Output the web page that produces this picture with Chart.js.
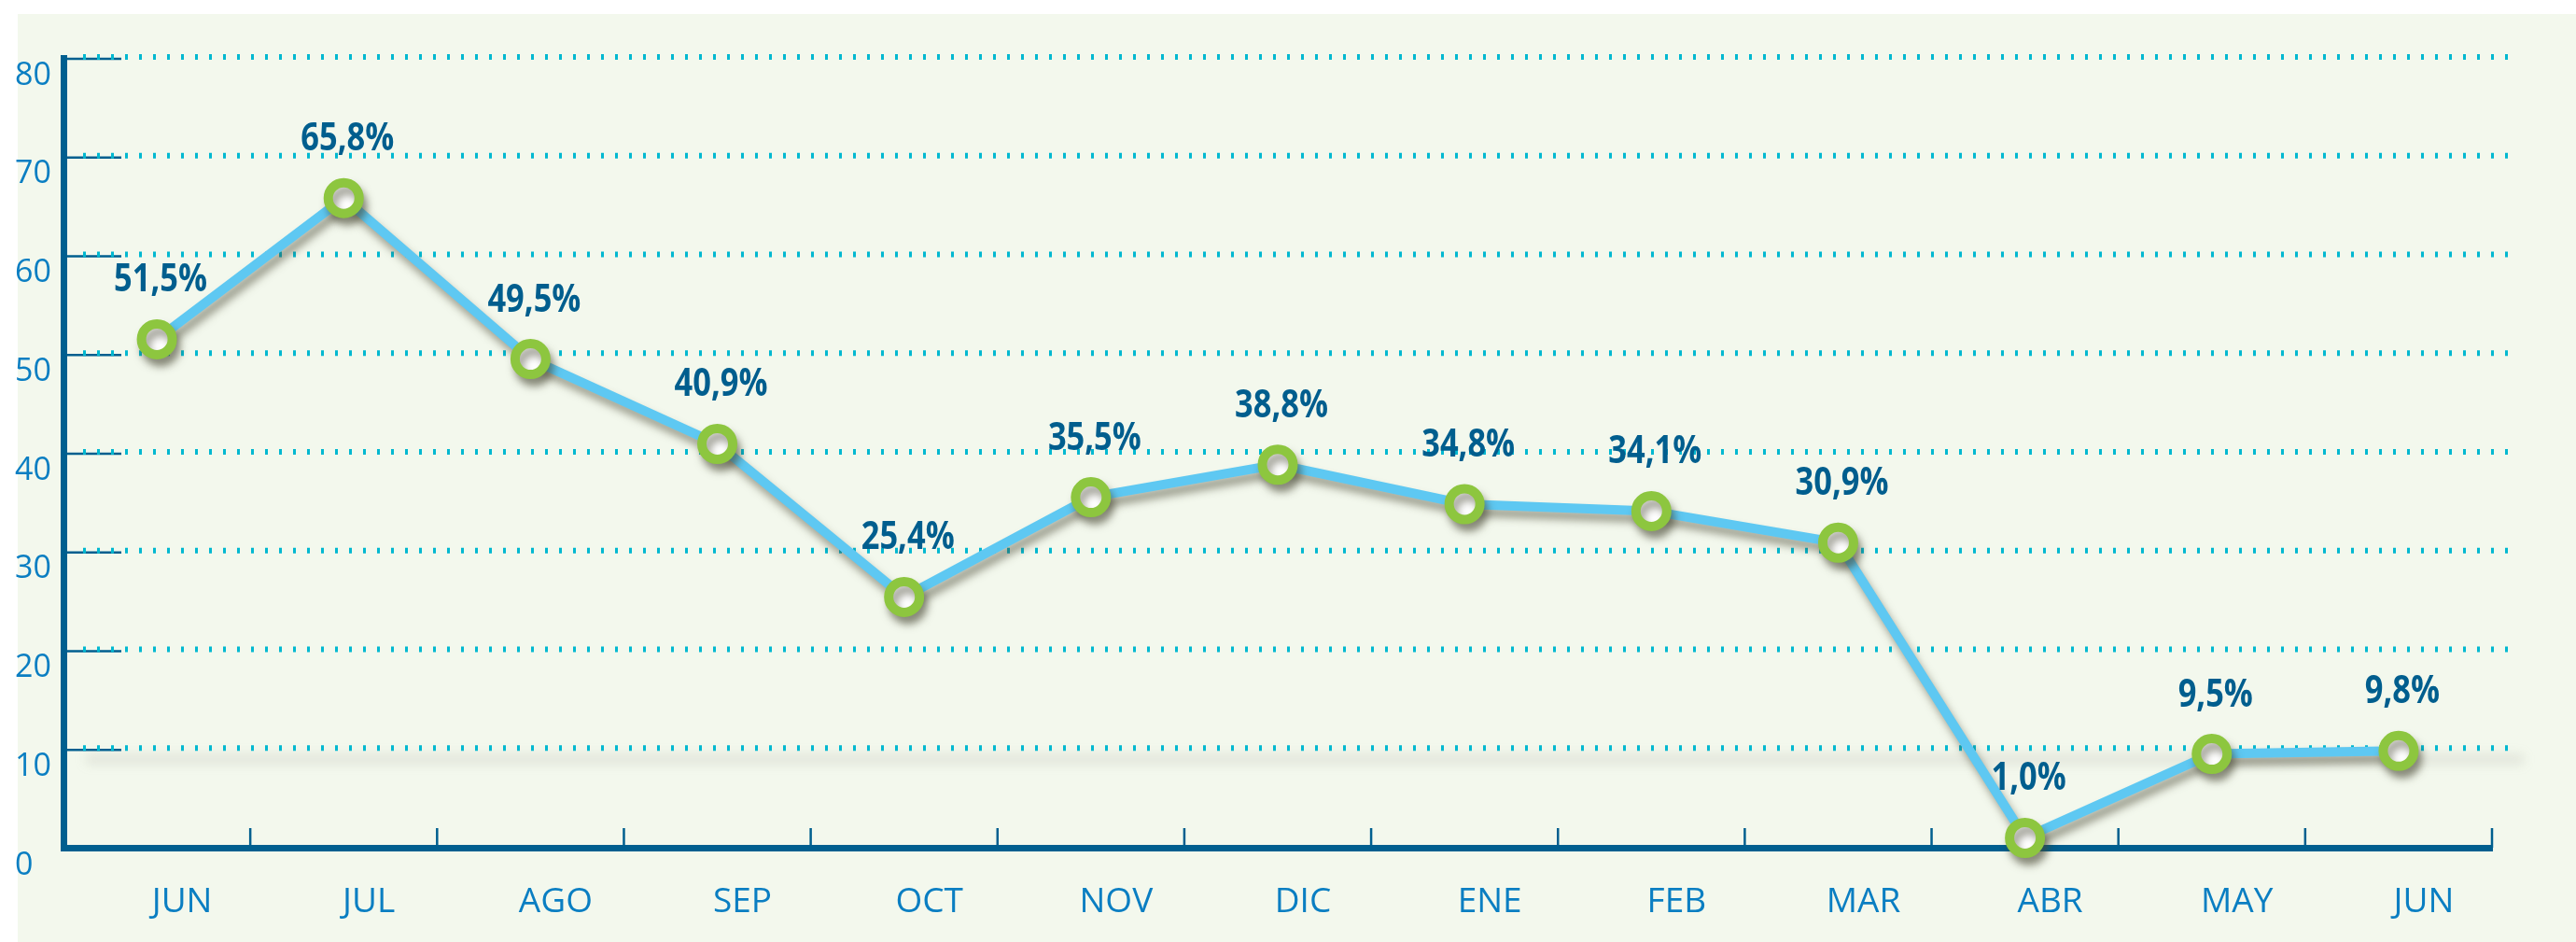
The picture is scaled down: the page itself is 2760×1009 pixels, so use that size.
<!DOCTYPE html>
<html><head><meta charset="utf-8">
<script src="https://cdn.jsdelivr.net/npm/chart.js@4.4.1/dist/chart.umd.min.js"></script>
<style>
html,body{margin:0;padding:0;background:#fff;}
canvas{display:block;}
</style></head><body>
<canvas id="c" width="2760" height="1009"></canvas>
<script>
// ---- data ----
const months = ['JUN','JUL','AGO','SEP','OCT','NOV','DIC','ENE','FEB','MAR','ABR','MAY','JUN'];
const values = [51.5, 65.8, 49.5, 40.9, 25.4, 35.5, 38.8, 34.8, 34.1, 30.9, 1.0, 9.5, 9.8];
const yMin = 0, yMax = 80, yStep = 10;

// ---- styles ----
const C = {
  panel: '#f3f8ed',
  axis: '#005f8f',
  tick: '#0a7ec2',
  label: '#005e8e',
  line: '#5ec8f2',
  point: '#8dc63f',
  dots: '#00b8d0'
};

const fmt = v => v.toFixed(1).replace('.', ',') + '%';

const bgPlugin = {
  id: 'bg',
  beforeDraw(chart) {
    const ctx = chart.ctx;
    ctx.save();
    ctx.fillStyle = '#ffffff';
    ctx.fillRect(0, 0, chart.width, chart.height);
    ctx.fillStyle = C.panel;
    ctx.fillRect(19, 15, chart.width - 19, chart.height - 15);
    ctx.restore();
  }
};

const gridPlugin = {
  id: 'dotgrid',
  beforeDatasetsDraw(chart) {
    const ctx = chart.ctx, ca = chart.chartArea;
    const ys = chart.scales.y, xs = chart.scales.x;
    ctx.save();
    ys.ticks.forEach(t => {
      if (t.value === yMin) return;
      const y = ys.getPixelForValue(t.value);
      if (t.value === 10) {
        ctx.save();
        ctx.filter = 'blur(6px)';
        ctx.strokeStyle = 'rgba(140,140,125,0.18)';
        ctx.lineWidth = 10;
        ctx.beginPath();
        ctx.moveTo(ca.left + 24, y + 11);
        ctx.lineTo(ca.right + 34, y + 11);
        ctx.stroke();
        ctx.restore();
      }
      // inner tick segment
      ctx.strokeStyle = C.axis;
      ctx.lineWidth = 2.5;
      ctx.setLineDash([]);
      ctx.beginPath();
      ctx.moveTo(ca.left, y + 1);
      ctx.lineTo(ca.left + 62, y + 1);
      ctx.stroke();
      // dotted gridline
      ctx.strokeStyle = C.dots;
      ctx.lineWidth = 6;
      ctx.lineCap = 'butt';
      ctx.setLineDash([3, 12]);
      ctx.beginPath();
      ctx.moveTo(ca.left + 21, y - 1);
      ctx.lineTo(ca.right + 22, y - 1);
      ctx.stroke();
    });
    // x-axis boundary ticks
    ctx.setLineDash([]);
    ctx.strokeStyle = C.axis;
    ctx.lineWidth = 2.5;
    const half = (xs.getPixelForValue(1) - xs.getPixelForValue(0)) / 2;
    for (let i = 0; i < months.length; i++) {
      const x = xs.getPixelForValue(i) + half;
      ctx.beginPath();
      ctx.moveTo(x, ca.bottom - 21);
      ctx.lineTo(x, ca.bottom);
      ctx.stroke();
    }
    ctx.restore();
  },
  beforeDatasetDraw(chart) {
    const ctx = chart.ctx;
    ctx.save();
    ctx.shadowColor = 'rgba(70,70,50,0.5)';
    ctx.shadowBlur = 9;
    ctx.shadowOffsetX = 4;
    ctx.shadowOffsetY = 8;
  },
  afterDatasetDraw(chart) {
    chart.ctx.restore();
  }
};

const labelPlugin = {
  id: 'vlabels',
  afterDatasetsDraw(chart) {
    const ctx = chart.ctx;
    const meta = chart.getDatasetMeta(0);
    ctx.save();
    ctx.fillStyle = C.label;
    ctx.font = 'bold 42px "Open Sans"';
    ctx.textAlign = 'center';
    ctx.textBaseline = 'middle';
    meta.data.forEach((pt, i) => {
      ctx.save();
      ctx.translate(pt.x + 4, pt.y - 63);
      ctx.scale(0.82, 1);
      ctx.fillText(fmt(values[i]), 0, 0);
      ctx.restore();
    });
    ctx.restore();
  }
};

new Chart(document.getElementById('c'), {
  type: 'line',
  data: {
    labels: months,
    datasets: [{
      data: values,
      borderColor: C.line,
      borderWidth: 10,
      tension: 0,
      pointRadius: 16.5,
      pointHoverRadius: 16.5,
      pointBorderWidth: 10,
      pointBorderColor: C.point,
      pointBackgroundColor: '#ffffff',
      clip: false
    }]
  },
  options: {
    responsive: false,
    animation: false,
    devicePixelRatio: 1,
    layout: { padding: { left: 16, top: 62, right: 90, bottom: 0 } },
    plugins: { legend: { display: false }, tooltip: { enabled: false } },
    scales: {
      x: {
        type: 'category',
        offset: true,
        afterFit(s) { s.height = 101; },
        grid: { display: true, drawOnChartArea: false, drawTicks: false, color: 'rgba(0,0,0,0)' },
        border: { display: true, color: C.axis, width: 7 },
        ticks: {
          color: C.tick,
          font: { family: '"Open Sans"', size: 37 },
          padding: 36,
          labelOffset: 27,
          maxRotation: 0,
          autoSkip: false
        }
      },
      y: {
        min: yMin, max: yMax,
        afterFit(s) { s.width = 52; },
        grid: { display: true, drawOnChartArea: false, drawTicks: false, color: 'rgba(0,0,0,0)' },
        border: { display: true, color: C.axis, width: 7 },
        ticks: {
          stepSize: yStep,
          color: C.tick,
          font: { family: '"Open Sans"', size: 34 },
          crossAlign: 'far',
          labelOffset: 19,
          padding: 0
        }
      }
    }
  },
  plugins: [bgPlugin, gridPlugin, labelPlugin]
});
</script>
</body></html>
